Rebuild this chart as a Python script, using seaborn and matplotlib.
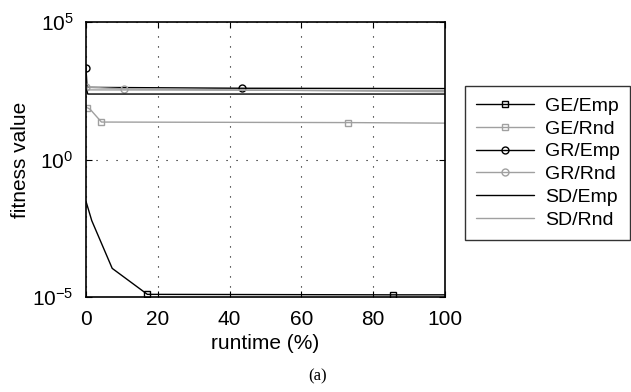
import numpy as np
import pandas as pd
import matplotlib
matplotlib.use("Agg")
import matplotlib.pyplot as plt
import seaborn as sns

# runtime (%) and fitness values
ge_emp_x = [0, 1.6, 7.3, 17.1, 85.6, 100]
ge_emp_y = [0.03, 0.006, 1.1e-4, 1.25e-5, 1.2e-5, 1.2e-5]
ge_rnd_x = [0.4, 1.2, 4.3, 72.9, 100]
ge_rnd_y = [76, 66, 23, 22, 21]
gr_emp_x = [0, 0.3, 43.5, 100]
gr_emp_y = [2100, 420, 390, 380]
gr_rnd_x = [0, 10.6, 100]
gr_rnd_y = [430, 370, 290]
sd_emp_x = [0, 0.5, 100]
sd_emp_y = [400, 240, 240]
sd_rnd_x = [0, 0.5, 100]
sd_rnd_y = [420, 340, 320]

sns.set_style("ticks", {'text.color': 'black', 'axes.labelcolor': 'black',
                        'axes.edgecolor': 'black', 'xtick.color': 'black',
                        'ytick.color': 'black'})
plt.rcParams['font.family'] = ['Liberation Sans', 'DejaVu Sans']
plt.rcParams['mathtext.fontset'] = 'custom'
plt.rcParams['mathtext.rm'] = 'Liberation Sans'
plt.rcParams['mathtext.it'] = 'Liberation Sans'

fig = plt.figure(figsize=(6.31, 3.92), dpi=100)
ax = fig.add_axes([0.1363, 0.2423, 0.5687, 0.7016])

gray = '#a0a0a0'
series = [
    ('GE/Emp', ge_emp_x, ge_emp_y, 'black', 's', [3, 4]),
    ('GE/Rnd', ge_rnd_x, ge_rnd_y, gray, 's', [0, 2, 3]),
    ('GR/Emp', gr_emp_x, gr_emp_y, 'black', 'o', [0, 2]),
    ('GR/Rnd', gr_rnd_x, gr_rnd_y, gray, 'o', [0, 1]),
    ('SD/Emp', sd_emp_x, sd_emp_y, 'black', None, None),
    ('SD/Rnd', sd_rnd_x, sd_rnd_y, gray, None, None),
]
for name, xs, ys, col, mk, every in series:
    df = pd.DataFrame({'x': xs, 'y': ys})
    kw = dict(color=col, linewidth=1.0, label=name)
    if mk:
        kw.update(marker=mk, markevery=every, markersize=5,
                  markerfacecolor='none', markeredgecolor=col, markeredgewidth=1.0)
    sns.lineplot(data=df, x='x', y='y', ax=ax, sort=False, **kw)

ax.set_yscale('log')
ax.set_xlim(0, 100)
ax.set_ylim(1e-5, 1e5)
ax.set_xticks([0, 20, 40, 60, 80, 100])
ax.set_yticks([1e-5, 1e0, 1e5])
ax.minorticks_off()
ax.tick_params(direction='in', top=True, right=True, labelsize=15, length=4, width=0.8)
ax.tick_params(axis='x', pad=9)
ax.tick_params(axis='y', pad=9)
ax.grid(True, linestyle=(0, (1, 8)), color='black', linewidth=0.8)
for s in ax.spines.values():
    s.set_linewidth(1.2)
ax.set_xlabel('runtime (%)', fontsize=15)
ax.set_ylabel('fitness value', fontsize=15)
ax.xaxis.set_label_coords(0.5, (297 - 343) / 275)
ax.xaxis.label.set_va('center')
ax.yaxis.set_label_coords((20 - 86) / 359, 0.5)
ax.yaxis.label.set_va('center')

leg = ax.legend(loc='center left', bbox_to_anchor=(465 / 631, 1 - 163 / 392),
                bbox_transform=fig.transFigure, fontsize=14, frameon=True,
                fancybox=False, edgecolor='black', handlelength=3.0,
                handletextpad=0.55, labelspacing=0.27, borderpad=0.55, borderaxespad=0)
leg.get_frame().set_linewidth(1.0)

fig.text(318 / 631, 1 - 376 / 392, '(a)', fontsize=12, family='Liberation Serif',
         ha='center', va='center')

fig.savefig('out.png', dpi=100)
